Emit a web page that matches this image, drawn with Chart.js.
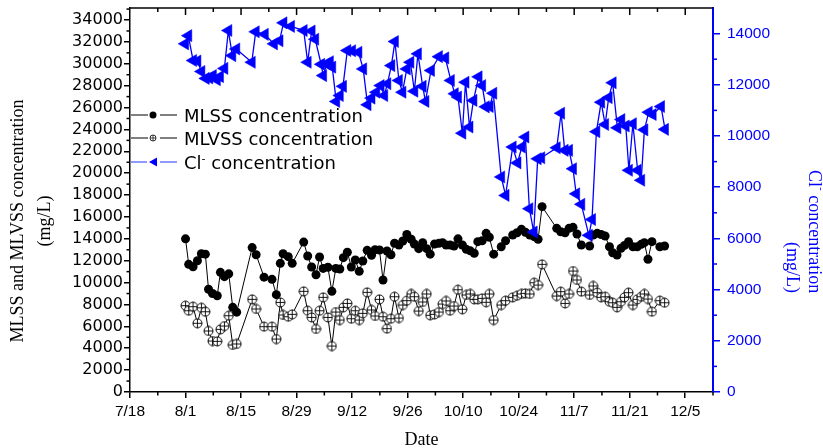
<!DOCTYPE html>
<html><head><meta charset="utf-8">
<script src="https://cdn.jsdelivr.net/npm/chart.js@4.4.1/dist/chart.umd.min.js"></script>
<style>
html,body{margin:0;padding:0;background:#fff;overflow:hidden;width:823px;height:448px}
#wrap{position:relative;width:823px;height:448px;overflow:hidden}
#c{position:absolute;left:0;top:0}
.lg{position:absolute;left:130px;height:22px;display:flex;align-items:center;font-family:'DejaVu Sans';font-size:18px;color:#000;white-space:nowrap}
.lg svg{width:50px;height:22px;margin-right:4px;flex:none}
#rtitle{position:absolute;left:789px;top:100px;width:44px;height:193px;writing-mode:vertical-rl;text-align:end;font-family:'Liberation Serif';font-size:18px;line-height:22px;color:#0000ff;white-space:nowrap}
#ltitle{position:absolute;left:-119px;top:194px;width:300px;height:54px;transform:rotate(-90deg);transform-origin:150px 27px;text-align:center;font-family:'Liberation Serif';font-size:18px;line-height:27px;color:#000;white-space:nowrap}
.sup{font-size:11px;vertical-align:super}
</style></head>
<body>
<div id="wrap">
<canvas id="c" width="823" height="448"></canvas>
<div class="lg" style="top:104px"><svg viewBox="0 0 50 22"><line x1="1" y1="11" x2="18" y2="11" stroke="#000" stroke-width="1"/><circle cx="23" cy="11" r="3.5" fill="#000"/><line x1="30" y1="11" x2="47" y2="11" stroke="#000" stroke-width="1"/></svg><span>MLSS concentration</span></div>
<div class="lg" style="top:127px"><svg viewBox="0 0 50 22"><line x1="1" y1="11" x2="18" y2="11" stroke="#000" stroke-width="1"/><circle cx="23" cy="11" r="3" fill="#fff" stroke="#000" stroke-width="0.8"/><line x1="23" y1="8" x2="23" y2="14" stroke="#000" stroke-width="0.7"/><line x1="20" y1="11" x2="26" y2="11" stroke="#000" stroke-width="0.7"/><line x1="30" y1="11" x2="47" y2="11" stroke="#000" stroke-width="1"/></svg><span>MLVSS concentration</span></div>
<div class="lg" style="top:151px"><svg viewBox="0 0 50 22"><line x1="1" y1="11" x2="17" y2="11" stroke="#4455ff" stroke-width="1.2"/><polygon points="19,11 27,6.5 27,15.5" fill="#0000ff"/><line x1="30" y1="11" x2="47" y2="11" stroke="#4455ff" stroke-width="1.2"/></svg><span>Cl<span class="sup">-</span> concentration</span></div>
<div id="ltitle">MLSS and MLVSS concentration<br>(mg/L)</div>
<div id="rtitle">Cl<span class="sup">-</span> concentration<br>(mg/L)</div>
</div>
<script>
// ---- data (days counted from 7/18) ----
const xTickLabels = ['7/18','8/1','8/15','8/29','9/12','9/26','10/10','10/24','11/7','11/21','12/5'];
const leftTickValues = [0,2000,4000,6000,8000,10000,12000,14000,16000,18000,20000,22000,24000,26000,28000,30000,32000,34000];
const rightTickValues = [0,2000,4000,6000,8000,10000,12000,14000];

const ssDays = [14.0,14.8,15.9,17.0,18.0,19.0,19.8,20.8,22.0,22.8,23.8,24.9,25.9,26.9,
  30.8,31.8,33.8,35.8,36.9,37.9,38.6,39.9,40.9,
  43.8,44.8,45.8,46.9,47.8,48.7,49.9,50.9,51.9,52.9,
  53.8,54.8,55.8,56.8,57.8,58.7,59.8,60.9,61.8,62.9,
  63.8,64.8,65.8,66.7,67.8,68.8,69.8,70.9,71.7,72.8,
  73.8,74.8,75.7,76.8,77.9,78.8,79.7,80.7,81.7,82.7,
  83.8,84.8,85.8,86.8,87.7,88.8,89.8,90.6,91.7,
  93.6,94.7,96.5,97.6,98.7,99.7,100.8,101.9,102.9,103.9,
  107.6,108.6,109.7,110.7,111.7,112.7,113.8,
  115.9,116.8,117.8,118.8,119.8,120.9,121.7,122.8,123.8,124.7,
  125.7,126.8,127.9,128.9,129.7,130.6,131.6,133.6,134.8];

const mlss = [14000,11670,11450,12000,12640,12600,9390,9000,8800,10940,10540,10800,7740,7300,
  13200,12550,10500,10300,8900,11760,12640,12370,11760,
  13700,12430,11430,10720,12340,11300,11400,9200,11300,11240,
  12280,12770,11430,12070,11030,11970,12950,12500,13000,12980,
  10240,12890,12550,13600,13440,13800,14400,13960,13530,13100,
  13650,13100,12600,13530,13600,13650,13440,13440,13350,14000,
  13440,13040,12900,12680,13740,13830,14500,14140,12600,
  13280,13830,14350,14560,14870,14600,14350,14200,13960,16940,
  14960,14650,14560,14960,15050,14440,13440,
  13350,14350,14500,14400,14260,13280,12730,12520,13130,13400,
  13740,13280,13280,13500,13650,12130,13740,13280,13350];

const mlvss = [7890,7430,7800,6280,7700,7340,5580,4660,4630,5730,6030,6970,4300,4390,
  8470,7590,5970,5970,4840,8190,7040,6880,7100,
  9200,7430,6820,5760,7430,8650,6820,4200,7310,6580,
  7740,8100,6700,7430,6580,7190,9110,7500,6950,8470,
  6880,5790,6700,8710,6760,7950,8350,8960,8710,7400,
  8230,8960,7010,7100,7310,8040,8320,7430,7860,9350,
  7560,8870,8960,8470,8470,8560,8200,8960,6580,
  7950,8350,8650,8800,8960,9020,8960,9990,9780,11670,
  8770,9170,8100,8960,11060,10240,9170,
  8870,9690,9080,8650,8710,8250,8160,7740,8250,8650,
  9080,7950,8470,8710,8960,8500,7340,8350,8160];

const clDays = [13.9,14.7,15.9,17.0,18.0,19.1,20.0,20.9,21.9,22.7,23.8,24.8,25.8,26.8,
  30.7,31.7,34.0,36.3,37.7,38.7,40.6,
  43.8,44.8,45.8,46.7,48.2,48.7,49.6,50.4,51.0,52.0,52.9,53.7,54.8,56.0,57.6,58.8,
  59.9,60.9,62.1,63.2,64.1,64.9,65.9,66.8,67.8,68.7,69.8,70.7,71.7,72.6,73.8,74.5,75.9,
  77.9,79.5,80.9,81.9,82.7,83.8,84.6,85.6,86.6,87.9,88.8,89.7,90.7,91.6,
  93.6,94.7,96.5,97.7,98.8,99.7,100.7,101.8,102.8,103.7,
  107.6,108.7,109.6,110.7,111.7,112.5,113.8,115.7,116.5,117.6,118.8,119.8,120.7,121.7,
  122.9,123.9,125.0,125.8,126.8,128.0,128.9,129.7,130.8,131.8,133.9,134.9];

const cl = [13600,13920,12950,12930,12520,12250,12270,12360,12200,12320,12640,14120,13140,13400,
  12880,14070,13970,13600,13720,14420,14280,
  14120,12880,14100,13780,12800,12360,12820,12900,12690,11350,11580,11940,13340,13330,13270,12620,
  11220,11480,11710,11970,11580,12040,12750,13690,12170,11710,12620,12880,11750,13210,11940,11350,12560,
  13100,13050,12170,11650,11520,10110,12100,10350,11390,12310,11970,11140,11150,11670,
  8400,7680,9570,8950,9570,9960,7160,6250,9110,9150,
  9540,10890,9440,9440,8720,7740,7330,6120,6740,10170,11320,10450,11500,12080,
  10320,10640,10390,8660,10480,8660,8270,10240,10930,10840,11150,10260];

// ---- chart ----
Chart.defaults.font.family = "'Liberation Sans', Arial, sans-serif";
Chart.defaults.color = '#000';

function crossCircle() {
  const c = document.createElement('canvas');
  c.width = 11; c.height = 11;
  const g = c.getContext('2d');
  g.fillStyle = '#fff'; g.strokeStyle = '#000'; g.lineWidth = 1;
  g.beginPath(); g.arc(5.5, 5.5, 4.5, 0, Math.PI * 2); g.fill(); g.stroke();
  g.lineWidth = 0.9;
  g.beginPath(); g.moveTo(5.5, 1); g.lineTo(5.5, 10); g.moveTo(1, 5.5); g.lineTo(10, 5.5); g.stroke();
  return c;
}

const pts = (xs, ys) => xs.map((d, i) => ({x: d, y: ys[i]}));

const framePlugin = {
  id: 'frame',
  afterDraw(chart) {
    const {ctx, chartArea: a, scales} = chart;
    const x = scales.x, y = scales.y, y1 = scales.y1;
    ctx.save();
    const seg = (x0, y0, x1, y1_) => { ctx.beginPath(); ctx.moveTo(x0, y0); ctx.lineTo(x1, y1_); ctx.stroke(); };
    ctx.strokeStyle = '#000'; ctx.lineWidth = 1.5;
    seg(a.left - 0.75, a.top, a.right, a.top);
    for (let v = 0; v <= x.max; v += 7) {
      const px = x.getPixelForValue(v);
      const major = (v % 14) === 0;
      if (px > a.left + 1 && px < a.right - 1) seg(px, a.top, px, a.top + (major ? 7 : 4));
      if (!major) seg(px, a.bottom, px, a.bottom + 3.5);
    }
    for (let v = 1000; v < y.max; v += 2000) {
      const py = y.getPixelForValue(v);
      seg(a.left, py, a.left - 3.5, py);
    }
    ctx.strokeStyle = '#0000ff';
    for (let v = 1000; v < y1.max; v += 2000) {
      const py = y1.getPixelForValue(v);
      seg(a.right, py, a.right + 4, py);
    }
    ctx.restore();
  }
};

new Chart(document.getElementById('c'), {
  type: 'line',
  data: {
    datasets: [
      {
        label: 'Cl- concentration', data: pts(clDays, cl), yAxisID: 'y1', order: 0,
        borderColor: '#0000ff', borderWidth: 1.3, backgroundColor: '#0000ff',
        pointStyle: 'triangle', pointRotation: -90, pointRadius: 7,
        pointBackgroundColor: '#0000ff', pointBorderColor: '#0000ff', pointBorderWidth: 0.5
      },
      {
        label: 'MLSS concentration', data: pts(ssDays, mlss), yAxisID: 'y', order: 1,
        borderColor: '#000', borderWidth: 1, backgroundColor: '#000',
        pointStyle: 'circle', pointRadius: 4.5,
        pointBackgroundColor: '#000', pointBorderColor: '#000', pointBorderWidth: 0
      },
      {
        label: 'MLVSS concentration', data: pts(ssDays, mlvss), yAxisID: 'y', order: 2,
        borderColor: '#000', borderWidth: 1, backgroundColor: '#fff',
        pointStyle: crossCircle(), pointRadius: 5
      }
    ]
  },
  options: {
    responsive: false, animation: false, events: [],
    layout: {padding: {top: 8, left: 0, right: 0, bottom: 0}},
    plugins: {legend: {display: false}, tooltip: {enabled: false}},
    scales: {
      x: {
        type: 'linear', min: 0, max: 147,
        afterBuildTicks: s => { s.ticks = xTickLabels.map((_, i) => ({value: i * 14})); },
        ticks: {callback: v => xTickLabels[Math.round(v / 14)], font: {size: 15.5}, color: '#000', padding: 4, autoSkip: false, maxRotation: 0},
        grid: {drawOnChartArea: false, drawTicks: true, tickLength: 6, color: '#000', lineWidth: 1.5},
        border: {display: true, color: '#000', width: 1.5},
        title: {display: true, text: 'Date', font: {family: "'Liberation Serif'", size: 18, lineHeight: 0.9}, color: '#000', padding: {top: 0, bottom: 0}},
        afterFit: s => { s.height = 56; s.paddingLeft = 0; s.paddingRight = 0; }
      },
      y: {
        type: 'linear', position: 'left', min: 0, max: 35100,
        afterBuildTicks: s => { s.ticks = leftTickValues.map(v => ({value: v})); },
        ticks: {callback: v => String(v), font: {family: "'DejaVu Sans'", size: 16}, color: '#000', padding: 1},
        grid: {drawOnChartArea: false, drawTicks: true, tickLength: 6, color: '#000', lineWidth: 1.5},
        border: {display: true, color: '#000', width: 1.5},
        title: {display: false},
        afterFit: s => { s.width = 130; s.paddingTop = 0; s.paddingBottom = 0; }
      },
      y1: {
        type: 'linear', position: 'right', min: 0, max: 15000,
        afterBuildTicks: s => { s.ticks = rightTickValues.map(v => ({value: v})); },
        ticks: {callback: v => String(v), font: {size: 15.5}, color: '#0000ff', padding: 7},
        grid: {drawOnChartArea: false, drawTicks: true, tickLength: 7, color: '#0000ff', lineWidth: 1.5},
        border: {display: true, color: '#0000ff', width: 2},
        afterFit: s => { s.width = 110; s.paddingTop = 0; s.paddingBottom = 0; }
      }
    }
  },
  plugins: [framePlugin]
});
</script>
</body></html>
